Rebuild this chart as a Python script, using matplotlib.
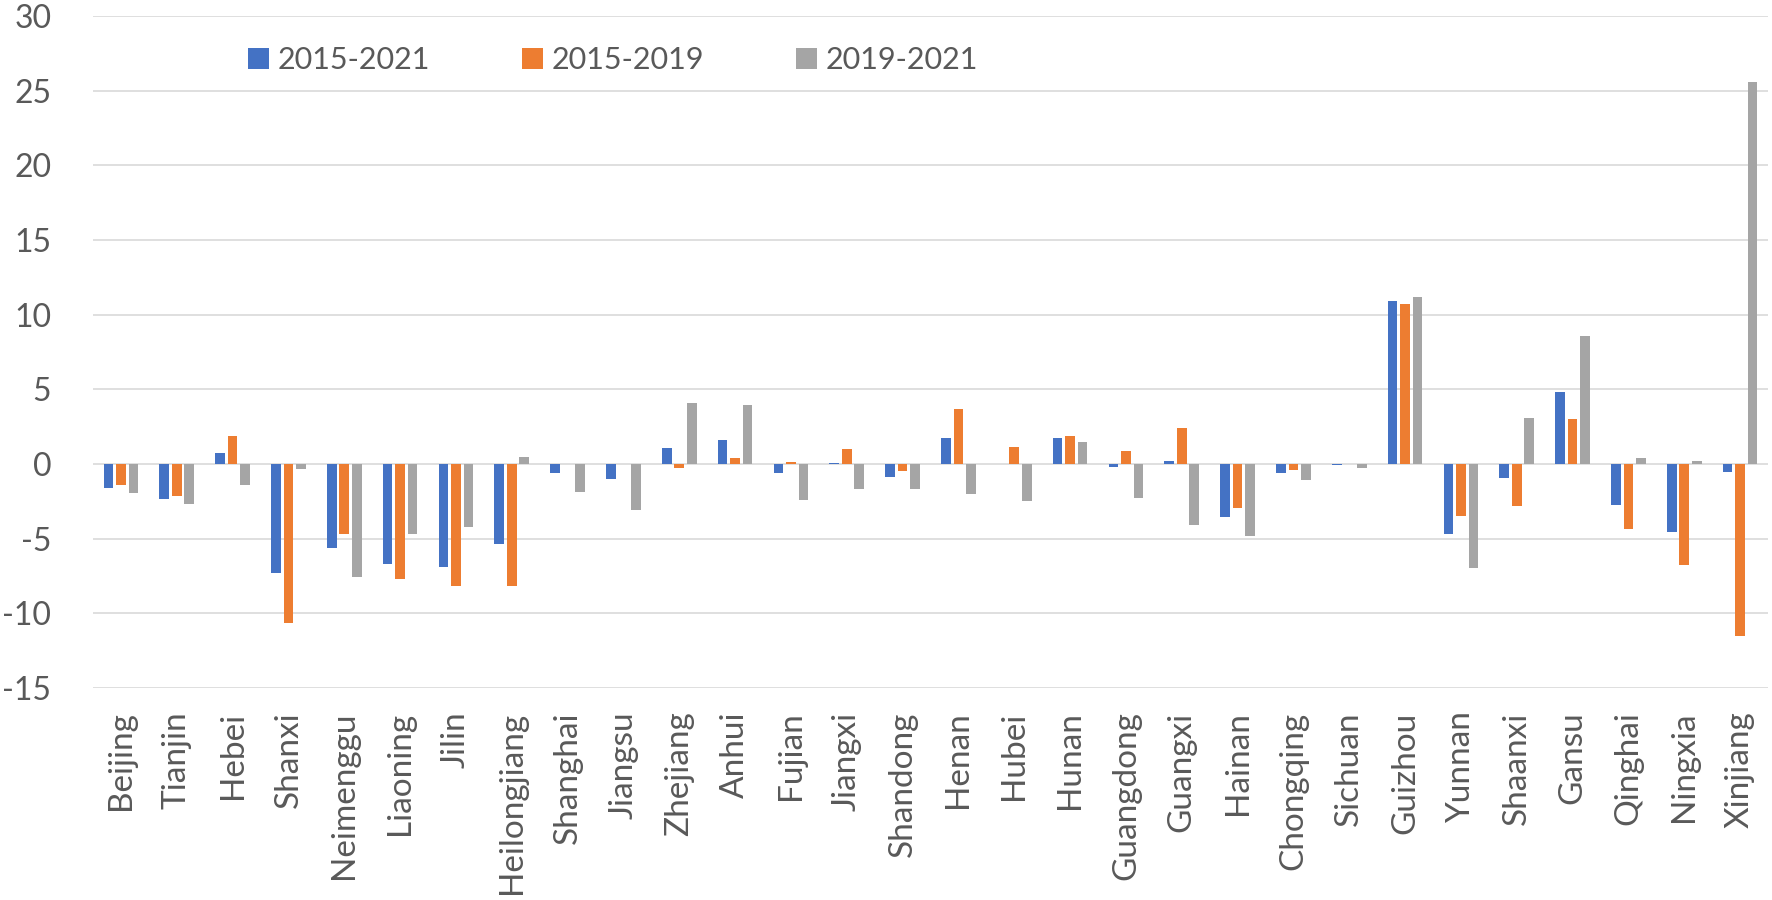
import numpy as np
import matplotlib
matplotlib.use("Agg")
import matplotlib.pyplot as plt

provinces = ["Beijing", "Tianjin", "Hebei", "Shanxi", "Neimenggu", "Liaoning", "Jilin",
             "Heilongjiang", "Shanghai", "Jiangsu", "Zhejiang", "Anhui", "Fujian", "Jiangxi",
             "Shandong", "Henan", "Hubei", "Hunan", "Guangdong", "Guangxi", "Hainan",
             "Chongqing", "Sichuan", "Guizhou", "Yunnan", "Shaanxi", "Gansu", "Qinghai",
             "Ningxia", "Xinjiang"]

series_names = ["2015-2021", "2015-2019", "2019-2021"]

v_2015_2021 = [-1.63, -2.34, 0.76, -7.3, -5.65, -6.7, -6.9, -5.33, -0.58, -1.0,
               1.1, 1.63, -0.63, 0.09, -0.87, 1.74, 0.0, 1.74, -0.18, 0.18,
               -3.55, -0.6, -0.05, 10.9, -4.7, -0.92, 4.8, -2.77, -4.53, -0.54]
v_2015_2019 = [-1.43, -2.14, 1.9, -10.67, -4.69, -7.68, -8.17, -8.2, 0.0, 0.0,
               -0.3, 0.42, 0.13, 1.03, -0.45, 3.7, 1.14, 1.85, 0.85, 2.4,
               -2.97, -0.38, 0.0, 10.7, -3.5, -2.83, 3.0, -4.33, -6.79, -11.5]
v_2019_2021 = [-1.92, -2.7, -1.38, -0.33, -7.6, -4.69, -4.24, 0.5, -1.85, -3.06,
               4.1, 3.97, -2.43, -1.65, -1.65, -2.0, -2.5, 1.5, -2.3, -4.07,
               -4.85, -1.05, -0.27, 11.2, -6.96, 3.08, 8.55, 0.4, 0.2, 25.6]

colors = ["#4472C4", "#ED7D31", "#A5A5A5"]
plt.rcParams['font.family'] = ["Lato", "DejaVu Sans"]
plt.rcParams['axes.unicode_minus'] = False

fig = plt.figure(figsize=(17.72, 9.0), dpi=100)
ax = fig.add_axes([93 / 1772, 1 - 688 / 900, 1675 / 1772, 672 / 900])

x = np.arange(len(provinces))
width = 0.175
step = 0.224
for i, (vals, name) in enumerate(zip([v_2015_2021, v_2015_2019, v_2019_2021], series_names)):
    ax.bar(x + (i - 1) * step, vals, width, color=colors[i], label=name, zorder=3)

ax.set_xlim(-0.5, len(provinces) - 0.5)
ax.set_ylim(-15, 30)
ax.set_yticks(np.arange(-15, 31, 5))
ax.yaxis.grid(True, color="#D9D9D9", linewidth=1.2, zorder=0)
ax.set_axisbelow(True)
for s in ax.spines.values():
    s.set_visible(False)

ax.set_xticks(x)
ax.set_xticklabels(provinces, rotation=90, fontsize=24, color="#595959")
ax.tick_params(axis="x", length=0, pad=17)
ax.tick_params(axis="y", length=0, pad=30, labelsize=23, labelcolor="#595959")

fig.legend(loc="center left", bbox_to_anchor=(248 / 1772, 1 - 60 / 900), ncol=3,
           frameon=False, fontsize=22, handlelength=0.68, handleheight=0.68,
           handletextpad=0.3, columnspacing=3.0, borderpad=0, borderaxespad=0,
           labelcolor="#595959")

fig.savefig("out.png", dpi=100)
